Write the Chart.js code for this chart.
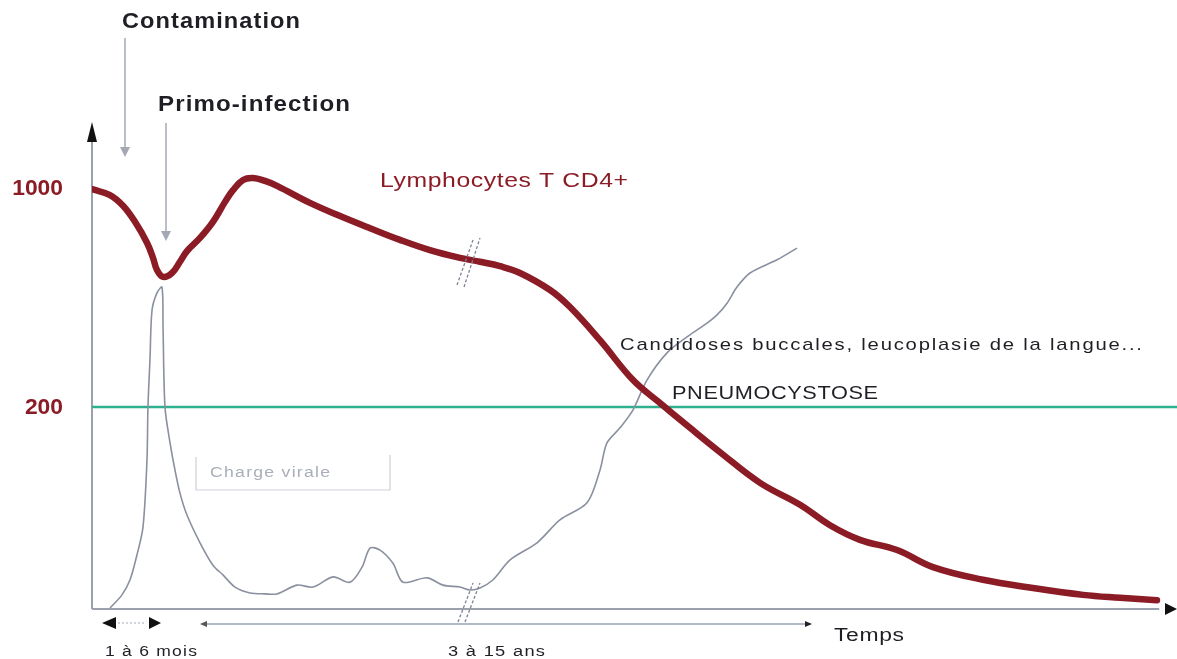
<!DOCTYPE html>
<html>
<head>
<meta charset="utf-8">
<script src="https://cdn.jsdelivr.net/npm/chart.js@4/dist/chart.umd.min.js"></script>
<style>
  html, body { margin: 0; padding: 0; background: #fff; }
  #wrap { width: 1177px; height: 659px; position: relative; }
</style>
</head>
<body>
<div id="wrap"><canvas id="chart"></canvas></div>
<script>
// schematic time (0-100) and relative level (0 = time axis, 100 = top of y axis)
const cd4Time = [0, 1.67, 2.88, 3.99, 5.10, 5.66, 6.03, 6.59, 7.42, 8.16, 8.81, 10.02, 11.22, 12.34, 13.08, 14.01, 14.94, 16.05, 17.16, 20.22, 23.01, 25.79, 28.57, 31.35, 34.14, 35.99, 37.85, 39.70, 42.49, 44.34, 47.12, 50.19, 52.69, 55.47, 58.26, 61.97, 65.68, 68.46, 71.24, 74.68, 78.01, 82.65, 87.29, 91.93, 95.36, 98.79];
const cd4Level = [86.2, 85.0, 82.8, 79.5, 75.2, 72.1, 69.6, 68.2, 69.0, 71.3, 73.5, 76.2, 79.5, 83.6, 86.0, 88.1, 88.5, 87.9, 86.9, 83.4, 80.7, 78.2, 75.8, 73.7, 72.1, 71.3, 70.4, 69.0, 65.5, 62.0, 55.2, 47.0, 42.3, 37.2, 32.2, 25.9, 21.4, 17.2, 14.2, 12.1, 8.6, 6.0, 4.3, 2.9, 2.3, 1.8];

const viralTime = [1.67, 2.78, 3.53, 4.17, 4.73, 5.10, 5.19, 5.38, 5.57, 6.03, 6.49, 6.59, 6.77, 7.24, 7.70, 8.16, 8.81, 10.02, 11.22, 12.15, 13.27, 14.66, 16.05, 17.16, 19.02, 20.50, 22.36, 23.93, 25.05, 25.79, 26.72, 27.92, 28.85, 31.08, 32.56, 34.14, 35.06, 35.99, 37.20, 38.78, 41.28, 43.41, 45.92, 47.12, 47.77, 48.98, 50.19, 51.48, 53.34, 55.47, 57.05, 57.98, 58.91, 59.83, 61.04, 63.54, 65.40];
const viralLevel = [0.2, 2.9, 6.0, 11.1, 16.8, 30.6, 41.5, 51.3, 61.4, 64.9, 66.1, 57.9, 41.5, 34.1, 28.5, 23.8, 19.3, 13.6, 9.0, 7.0, 4.5, 3.3, 3.1, 3.1, 4.9, 4.5, 6.6, 5.5, 8.6, 12.5, 12.1, 9.4, 5.5, 6.4, 4.9, 4.5, 3.9, 4.3, 6.0, 10.1, 13.6, 18.3, 21.8, 28.5, 34.1, 37.2, 40.9, 47.0, 52.6, 56.3, 58.7, 60.4, 62.8, 66.1, 69.0, 71.7, 74.1];

const tickLevels = [86.4, 41.5];
const tickLabels = ['1000', '200'];
const thresholdLevel = 41.5;

const RED = '#8b1c26';
const GRAY = '#8a90a0';
const GREEN = '#2fb08f';
const INK = '#1e1e24';

function pts(xs, ys) { return xs.map((x, i) => ({ x: x, y: ys[i] })); }

// draws text stretched horizontally so that it spans the given width
function fitText(ctx, text, x, y, width, font, color, spacing, align) {
  ctx.save();
  ctx.font = font;
  ctx.fillStyle = color;
  ctx.textBaseline = 'middle';
  ctx.textAlign = 'left';
  ctx.letterSpacing = (spacing || 0) + 'px';
  const w = ctx.measureText(text).width - (spacing || 0);
  const k = width / w;
  const left = align === 'right' ? x - width : x;
  ctx.translate(left, y);
  ctx.scale(k, 1);
  ctx.fillText(text, 0, 0);
  ctx.restore();
}

function arrowHead(ctx, x, y, dir, len, half, color) {
  ctx.save();
  ctx.fillStyle = color;
  ctx.beginPath();
  if (dir === 'up') { ctx.moveTo(x, y); ctx.lineTo(x - half, y + len); ctx.lineTo(x + half, y + len); }
  if (dir === 'down') { ctx.moveTo(x, y); ctx.lineTo(x - half, y - len); ctx.lineTo(x + half, y - len); }
  if (dir === 'left') { ctx.moveTo(x, y); ctx.lineTo(x + len, y - half); ctx.lineTo(x + len, y + half); }
  if (dir === 'right') { ctx.moveTo(x, y); ctx.lineTo(x - len, y - half); ctx.lineTo(x - len, y + half); }
  ctx.closePath();
  ctx.fill();
  ctx.restore();
}

function line(ctx, x1, y1, x2, y2, color, w, dash) {
  ctx.save();
  ctx.strokeStyle = color;
  ctx.lineWidth = w;
  if (dash) ctx.setLineDash(dash);
  ctx.beginPath();
  ctx.moveTo(x1, y1);
  ctx.lineTo(x2, y2);
  ctx.stroke();
  ctx.restore();
}

const backdrop = {
  id: 'backdrop',
  beforeDatasetsDraw(chart) {
    const ctx = chart.ctx;
    const xs = chart.scales.x, ys = chart.scales.y;
    const left = xs.getPixelForValue(0), bottom = ys.getPixelForValue(0);
    // axes
    line(ctx, left, bottom, left, ys.getPixelForValue(97), '#9aa0ac', 2);
    arrowHead(ctx, left, ys.getPixelForValue(100), 'up', 20, 5, '#111');
    line(ctx, left, bottom, xs.getPixelForValue(99), bottom, '#9aa0ac', 2);
    arrowHead(ctx, 1177, bottom, 'right', 12, 6, '#111');
    // threshold
    const yt = ys.getPixelForValue(thresholdLevel);
    line(ctx, left, yt, 1177, yt, GREEN, 2.5);
    // y labels
    tickLevels.forEach((v, i) => {
      fitText(ctx, tickLabels[i], 63, ys.getPixelForValue(v) + 1, tickLabels[i].length * 12.7, 'bold 22px "Liberation Sans", Arial', RED, 0, 'right');
    });
    // charge virale box
    ctx.save();
    ctx.strokeStyle = '#cdd1d8';
    ctx.lineWidth = 1.2;
    ctx.beginPath();
    ctx.moveTo(196, 457); ctx.lineTo(196, 490); ctx.lineTo(390, 490); ctx.lineTo(390, 455);
    ctx.stroke();
    ctx.restore();
    fitText(ctx, 'Charge virale', 210, 473, 120, '14px "Liberation Sans", Arial', '#a9aeb8', 1);
  },
  afterDatasetsDraw(chart) {
    const ctx = chart.ctx;
    // break marks
    [[457, 285, 473, 240], [464, 287, 480, 238], [458, 622, 473, 583], [465, 622, 480, 583]].forEach(s => {
      line(ctx, s[0], s[1], s[2], s[3], '#7d8494', 1.3, [3, 2]);
    });
    // arrows from labels
    line(ctx, 125, 38, 125, 148, '#a3a8b4', 1.5);
    arrowHead(ctx, 125, 157, 'down', 10, 5, '#a3a8b4');
    line(ctx, 166, 123, 166, 232, '#a3a8b4', 1.5);
    arrowHead(ctx, 166, 241, 'down', 10, 5, '#a3a8b4');
    // time spans
    arrowHead(ctx, 102, 623, 'left', 14, 6, '#111');
    line(ctx, 118, 623, 146, 623, '#b0b6c2', 1.2, [2, 2]);
    arrowHead(ctx, 161, 623, 'right', 12, 6, '#111');
    line(ctx, 204, 624, 806, 624, '#9aa3b4', 1.5);
    arrowHead(ctx, 200, 624, 'left', 7, 3, '#555');
    arrowHead(ctx, 812, 624, 'right', 7, 3, '#222');
    // texts
    fitText(ctx, 'Contamination', 122, 22, 178, 'bold 22px "Liberation Sans", Arial', INK, 1);
    fitText(ctx, 'Primo-infection', 158, 105, 192, 'bold 22px "Liberation Sans", Arial', INK, 1);
    fitText(ctx, 'Lymphocytes T CD4+', 380, 181, 248, '21px "Liberation Sans", Arial', RED, 0.5);
    fitText(ctx, 'Candidoses buccales, leucoplasie de la langue...', 620, 345, 522, '17px "Liberation Sans", Arial', INK, 1.5);
    fitText(ctx, 'PNEUMOCYSTOSE', 672, 394, 206, '18px "Liberation Sans", Arial', INK, 0.5);
    fitText(ctx, 'Temps', 834, 636, 70, '18px "Liberation Sans", Arial', INK, 0.5);
    fitText(ctx, '1 à 6 mois', 105, 652, 92, '14px "Liberation Sans Narrow", "Liberation Sans", Arial', INK, 1);
    fitText(ctx, '3 à 15 ans', 448, 652, 97, '14px "Liberation Sans Narrow", "Liberation Sans", Arial', INK, 1);
  }
};

new Chart(document.getElementById('chart'), {
  type: 'line',
  data: {
    datasets: [
      {
        label: 'Lymphocytes T CD4+',
        data: pts(cd4Time, cd4Level),
        borderColor: RED,
        borderWidth: 6.5,
        pointRadius: 0,
        tension: 0.4,
        borderCapStyle: 'round',
        borderJoinStyle: 'round'
      },
      {
        label: 'Charge virale',
        data: pts(viralTime, viralLevel),
        borderColor: GRAY,
        borderWidth: 1.6,
        pointRadius: 0,
        tension: 0.3
      }
    ]
  },
  options: {
    responsive: true,
    maintainAspectRatio: false,
    animation: false,
    layout: { padding: { left: 92, right: 7, top: 122, bottom: 50 } },
    plugins: { legend: { display: false }, tooltip: { enabled: false } },
    scales: {
      x: { type: 'linear', min: 0, max: 100, display: false },
      y: { type: 'linear', min: 0, max: 100, display: false }
    }
  },
  plugins: [backdrop]
});
</script>
</body>
</html>
